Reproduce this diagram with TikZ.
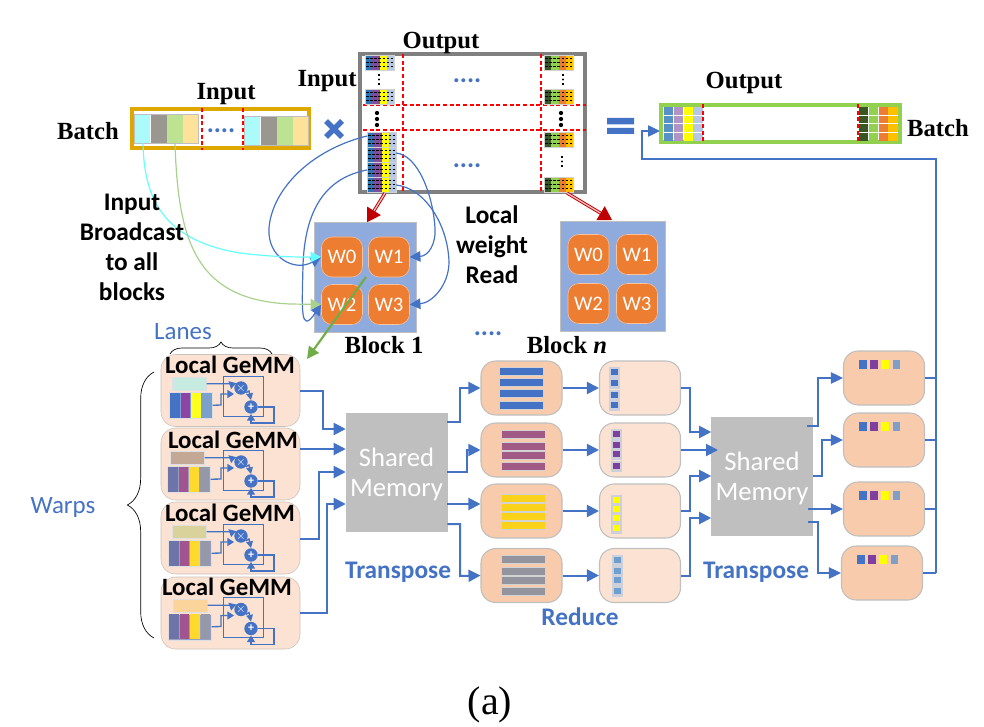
\documentclass[tikz,border=0pt]{standalone}
\usepackage{fontspec}
\setmainfont{Liberation Serif}
\setsansfont{Carlito}
\usepackage{tikz}
\usetikzlibrary{arrows.meta,decorations.pathreplacing}

\definecolor{wblue}{HTML}{4472C4}
\definecolor{wgold}{HTML}{DFA800}
\definecolor{wgreen}{HTML}{92D050}
\definecolor{wred}{HTML}{C00000}
\definecolor{wframe}{HTML}{808080}
\definecolor{wblock}{HTML}{8FAADC}
\definecolor{worange}{HTML}{ED7D31}
\definecolor{wpeach}{HTML}{F8CBAD}
\definecolor{wlight}{HTML}{FBE2D2}
\definecolor{wmem}{HTML}{BFBFBF}
\definecolor{vblue}{HTML}{2E75B6}
\definecolor{vpurple}{HTML}{7E4CA0}
\definecolor{vyellow}{HTML}{FFFF00}
\definecolor{vpale}{HTML}{B4C7E7}
\definecolor{vdark}{HTML}{385723}
\definecolor{vamber}{HTML}{FFC000}
\definecolor{icyan}{HTML}{AAFBF9}
\definecolor{igrey}{HTML}{9A9690}
\definecolor{igreen}{HTML}{BCE292}
\definecolor{iyellow}{HTML}{FFE299}
\definecolor{lcyan}{HTML}{66FFFF}
\definecolor{lgreen}{HTML}{A9D18E}
\definecolor{lback}{HTML}{CDD0DA}
\definecolor{ldown}{HTML}{70AD47}

\tikzset{
  sz/.style 2 args={minimum width=#1*.75pt,minimum height=#2*.75pt},
  title/.style={font=\bfseries\fontsize{18.5}{18.5}\selectfont,inner sep=0pt},
  lbl/.style={font=\sffamily\bfseries\fontsize{19}{22.5}\selectfont,inner sep=0pt,align=center},
  bluelbl/.style={lbl,text=wblue},
  thinlbl/.style={font=\sffamily\fontsize{18.7}{18.7}\selectfont,text=wblue,inner sep=0pt},
  reddash/.style={red,densely dashed,line width=1pt},
  flow/.style={wblue,line width=1.5pt,-{Triangle[length=9pt,width=9pt]}},
  thinflow/.style={wblue,line width=1pt,-{Triangle[length=9pt,width=8.5pt]}},
  busline/.style={wblue,line width=1pt},
  curve/.style={line width=.9pt,-{Triangle[length=8pt,width=8pt]}},
  redarrow/.style={wred,line width=.7pt,double=wred!25,double distance=1pt,-{Triangle[length=10pt,width=12pt]}},
  wcell/.style={draw=wlight!70!worange,fill=worange,rounded corners=8pt,sz={41}{40},text=white,
    font=\sffamily\fontsize{15.5}{15.5}\selectfont,inner sep=0pt},
  blockbox/.style={draw=wmem,fill=wblock,sz={#1}{110},inner sep=0pt},
  gemmbox/.style={draw=wmem!80!wpeach,fill=wlight,rounded corners=11pt,sz={139}{72},inner sep=0pt},
  rowbox/.style={draw=wmem,line width=.8pt,fill=#1,rounded corners=11pt,sz={81}{54},inner sep=0pt},
  membox/.style={draw=wmem,fill=wmem,sz={101}{118},text=white,inner sep=0pt,align=center,text depth=0pt,
    font=\sffamily\fontsize{20}{22.5}\selectfont},
  opcirc/.style={circle,fill=wblue,text=white,inner sep=0pt,minimum size=10pt,font=\sffamily\bfseries\fontsize{9}{9}\selectfont},
  dotlbl/.style={font=\sffamily\bfseries\fontsize{20}{20}\selectfont,text=wblue,inner sep=0pt,anchor=base}
}

% four columns with dashes in them
\newcommand{\wstrip}[6]{
  \foreach \c [count=\k from 0] in {#3,#4,#5,#6}
    \fill[\c] (#1+\k*7.3,#2) rectangle ++(7.3,15);
  \draw[wmem!70] (#1,#2) rectangle ++(29.2,15);
  \foreach \r in {3.8,7.5,11.2}
    \draw[black,line width=.45pt,dash pattern=on 2pt off 1.1pt] (#1+1,#2+\r) -- ++(27.2,0);
}
% one row of the output batch
\newcommand{\wrow}[6]{
  \foreach \c [count=\k from 0] in {#3,#4,#5,#6}
    \fill[\c] (#1+\k*9.8,#2) rectangle ++(9.3,7.8);
}

\begin{document}
\begin{tikzpicture}[x=.75pt,y=-.75pt]
 \useasboundingbox (0,0) rectangle (984,727);

 % input batch
 \draw[wgold,line width=3pt] (132,109.5) rectangle (309,148.5);
 \foreach \x/\y in {134/114,244/116} {
  \fill[icyan] (\x,\y) rectangle ++(16,29);
  \fill[igrey] (\x+17,\y) rectangle ++(16,29);
  \fill[igreen] (\x+33,\y) rectangle ++(16,29);
  \fill[iyellow] (\x+49,\y) rectangle ++(15,29);
  \draw[wmem] (\x,\y) rectangle ++(64,29);
 }
 \draw[reddash] (202,108) -- (202,150);
 \draw[reddash] (243,108) -- (243,150);
 \node[dotlbl] (dots0) at (221,133) {....};

 \node[title] (inname) at (226,94) {Input};
 \node[title] (batchin) at (88,131) {Batch};

 % times and equals
 \draw[wblue,line width=4pt] (326,121) -- (342,137) (342,121) -- (326,137);
 \fill[wblue] (607,118) rectangle (634,124.5) (607,128) rectangle (634,134);

 % weight matrix
 \draw[wframe,line width=3pt] (359.5,54.5) rectangle (584.5,192.5);
 \node[title] (outname) at (441,43) {Output};
 \node[title] (inname2) at (327,81) {Input};
 \draw[reddash] (403,54) -- (403,193);
 \draw[reddash] (541,54) -- (541,193);
 \draw[reddash] (363,105) -- (586,105);
 \draw[reddash] (363,130) -- (586,130);

 \wstrip{365}{55}{vblue}{vpurple}{vyellow}{vpale}
 \wstrip{365}{89}{vblue}{vpurple}{vyellow}{vpale}
 \foreach \y in {132,147,162,177}
  \wstrip{367}{\y}{vblue}{vpurple}{vyellow}{vpale}
 \foreach \y in {55,89,132,177}
  \wstrip{544}{\y}{vdark}{wgreen}{worange}{vamber}
 \foreach \x/\y in {379/75,563/75,562/157}
  \foreach \d in {0,4.5,9}
   \fill (\x,\y+\d) circle (.55pt);
 \foreach \x in {377,561}
  \foreach \y in {113,119,125}
   \fill (\x,\y) circle (1.6pt);
 \node[dotlbl] (dots1) at (467,83) {....};
 \node[dotlbl] (dots2) at (467,168) {....};

 \coordinate (s1) at (367,136);
 \coordinate (s2) at (396,153);
 \coordinate (s3) at (367,170);
 \coordinate (s4) at (396,185);
 \coordinate (s5) at (385,193);
 \coordinate (s6) at (567,193);

 % equals side, output batch
 \draw[wgreen,line width=3pt] (661,105) rectangle (900,142);
 \foreach \y in {107,115.7,124.4,133.1} {
  \wrow{664}{\y}{vblue!80!white}{vpurple!60!white}{vyellow}{vpale}
  \wrow{859}{\y}{vdark}{wgreen}{worange}{vamber}
 }
 \draw[reddash] (703,104) -- (703,143);
 \draw[reddash] (858,104) -- (858,143);
 \node[title] (outname2) at (744,82.5) {Output};
 \node[title] (batchout) at (938,128) {Batch};
 \coordinate (outin) at (660,131);

 % blocks
 \node[blockbox=102] (blk1) at (365,277.5) {};
 \node[blockbox=105] (blkn) at (612.5,276) {};
 \foreach \n/\x/\y in {0/342/257,1/389/257,2/342/304.5,3/389/304.5}
  \node[wcell] (a\n) at (\x,\y) {W\n};
 \foreach \n/\x/\y in {0/588.5/254.5,1/637/254.5,2/588.5/303.5,3/637/303.5}
  \node[wcell] (b\n) at (\x,\y) {W\n};
 \node[title] (blk1name) at (384,345) {Block 1};
 \node[title] (blknname) at (567,345) {Block \textit{n}};
 \node[dotlbl] (dots3) at (488,335) {....};

 \draw[redarrow] (s5) -- (blk1.north -| 367,0);
 \draw[redarrow] (s6) -- (612,220);

 % weight reads
 \draw[curve,wblue] (s1) .. controls (310,150) and (272,190) .. (269,228) .. controls (267,258) and (295,272) .. (a0.west);
 \draw[curve,wblue] (s3) .. controls (325,178) and (305,210) .. (303,265) .. controls (302,310) and (300,335) .. (a2.west);
 \draw[curve,wblue] (s2) .. controls (418,155) and (433,195) .. (435,228) .. controls (436,245) and (428,256) .. (a1.east);
 \draw[curve,wblue] (s4) .. controls (425,188) and (448,225) .. (449,262) .. controls (449,285) and (432,303) .. (a3.east);

 % broadcast
 \coordinate (c1) at (143,143);
 \coordinate (c2) at (175,143);
 \draw[curve,lcyan] (c1) .. controls (144,195) and (160,240) .. (240,253) .. controls (270,257) and (295,257) .. (a0.west);
 \draw[curve,lgreen] (c2) .. controls (178,240) and (195,300) .. (290,304) -- (a2.west);

 \node[lbl] (bcast) at (132,247.5) {Input\\Broadcast\\to all\\blocks};
 \node[lbl] (lread) at (492,244.5) {Local\\weight\\Read};

 \coordinate (gsrc) at (366,277);
 \coordinate (gdst) at (307,359);
 \draw[ldown,line width=1.6pt,-{Triangle[length=9pt,width=9pt]}] (gsrc) -- (gdst);

 % braces
 \node[thinlbl] (lanes) at (183,332) {Lanes};
 \node[thinlbl] (warps) at (63,508) {Warps};
 \draw[line width=.5pt,decorate,decoration={brace,amplitude=9pt}] (170,354) -- (272,354);
 \draw[line width=.5pt,decorate,decoration={brace,amplitude=20pt}] (154,638) -- (154,372);

 % local gemm blocks
 \foreach \i/\yy/\dy/\tx/\tl/\rx/\bx/\rc in {1/390.5/0/230/365/172/169/C6EBE0,2/464/74/233/440/170/167/C4A896,3/538/148/230/513/172/168/D9D29A,4/613/221.5/227/587/173/168/FAD49A} {
  \node[gemmbox] (g\i) at (230.5,\yy) {};
  \definecolor{rtop}{HTML}{\rc}
  \ifnum\i=1
   \definecolor{v1}{HTML}{4472C4}\definecolor{v2}{HTML}{8E44A5}\definecolor{v3}{HTML}{FFFF20}\definecolor{v4}{HTML}{7BA0CC}
  \else
   \definecolor{v1}{HTML}{6D75A8}\definecolor{v2}{HTML}{A05590}\definecolor{v3}{HTML}{FFD92B}\definecolor{v4}{HTML}{9498A8}
  \fi
  \node[draw=wmem!50,fill=rtop,sz={34}{13},inner sep=0pt,anchor=north west] (r\i) at (\rx,377+\dy) {};
  \node[draw=wmem!50,fill=v1!70!white,sz={43}{26},inner sep=0pt,anchor=north west] (q\i) at (\bx,392+\dy) {};
  \fill[v1] (\bx+1,392.5+\dy) rectangle ++(9.5,25);
  \fill[v2] (\bx+11.5,392.5+\dy) rectangle ++(9.5,25);
  \fill[v3] (\bx+22,392.5+\dy) rectangle ++(9.5,25);
  \fill[v4] (\bx+32.5,392.5+\dy) rectangle ++(9.5,25);
  \node[font=\sffamily\bfseries\fontsize{18.7}{18.7}\selectfont,inner sep=0pt] (t\i) at (\tx,\tl) {Local GeMM};
  \draw[wblue,line width=.7pt] (223,376+\dy) rectangle (263,416+\dy);
  \node[opcirc] (m\i) at (241,388+\dy) {$\times$};
  \node[opcirc] (p\i) at (251,407+\dy) {+};
  \draw[wblue,line width=1pt,-{Triangle[length=5pt,width=6pt]}] (r\i.east) -- (m\i.west |- r\i.east) -- (m\i.north west);
  \draw[wblue,line width=1pt,-{Triangle[length=5pt,width=6pt]}] (q\i.east) -- (221,405+\dy) -- (221,394+\dy) -- (m\i.west |- 0,394+\dy);
  \draw[wblue,line width=1pt,-{Triangle[length=5pt,width=5pt]}] (m\i.south east) -- (249,391+\dy) -- (p\i.north);
  \draw[wblue,line width=1pt,-{Triangle[length=5pt,width=6pt]}] (p\i.east) -- (274,407+\dy) -- (274,423+\dy) -- (251,423+\dy) -- (p\i.south);
 }

 % shared memories
 \node[membox] (mem1) at (396.5,472.5) {Shared\\Memory};
 \node[membox] (mem2) at (762,476) {Shared\\Memory};
 \node[bluelbl] (tr1) at (398,572) {Transpose};
 \node[bluelbl] (tr2) at (756,572) {Transpose};
 \node[bluelbl] (redu) at (580,617) {Reduce};

 \draw[flow] (g1.east) -- (323,390.5) -- (323,429) -- (mem1.west |- 0,429);
 \draw[flow] (g2.east |- 0,449) -- (mem1.west |- 0,449);
 \draw[flow] (g3.east |- 0,539) -- (319,539) -- (319,472) -- (mem1.west |- 0,472);
 \draw[flow] (g4.east |- 0,613) -- (327,613) -- (327,504) -- (mem1.west |- 0,504);

 % rows after the first memory
 \foreach \i/\y/\bc/\dc/\ba/\bb/\bd/\bz/\bx/\sx/\sa/\sb/\sd/\sz in {
   1/388/4472C4/4472C4/371/382.5/393/405/521/614/372/383/395/405,
   2/450/A05A85/7F3F9F/434.5/446/455.5/466.5/523/616/434/445/454/466,
   3/511/FAD21C/FFFF00/498/507/516.5/525.5/523/616/500/509/518/528,
   4/575.5/94949E/6F9FCF/559.5/571/580.5/591.5/523/617/560/571/580/591} {
  \definecolor{rbar}{HTML}{\bc}
  \definecolor{rdot}{HTML}{\dc}
  \node[rowbox=wpeach] (u\i) at (521.5,\y) {};
  \node[rowbox=wlight] (v\i) at (640,\y) {};
  \foreach \k in {\ba,\bb,\bd,\bz} {
   \fill[rbar] (\bx-22,\k-4) rectangle (\bx+22,\k+4);
   \draw[wmem!70,line width=.5pt] (\bx-22,\k-4) rectangle (\bx+22,\k+4);
  }
  \foreach \k in {\sa,\sb,\sd,\sz} {
   \fill[lback] (\sx-5.5,\k-5.5) rectangle (\sx+5.5,\k+5.5);
   \fill[rdot] (\sx-3.5,\k-3) rectangle (\sx+3.5,\k+3);
  }
  \draw[flow] (u\i.east) -- (v\i.west);
 }

 \draw[flow] (mem1.east |- 0,422) -- (460,422) -- (460,388) -- (u1.west);
 \draw[flow] (mem1.east |- 0,472) -- (467,472) -- (467,450) -- (u2.west);
 \draw[flow] (mem1.east |- 0,504) -- (u3.west |- 0,504);
 \draw[flow] (mem1.east |- 0,524) -- (460,524) -- (460,576) -- (u4.west);

 \draw[flow] (v1.east) -- (690,388) -- (690,432) -- (mem2.west |- 0,432);
 \draw[flow] (v2.east) -- (718,450);
 \draw[flow] (v3.east) -- (690,511) -- (690,476) -- (mem2.west |- 0,476);
 \draw[flow] (v4.east) -- (690,575.5) -- (690,518) -- (mem2.west |- 0,518);

 % output boxes and bus
 \foreach \i/\x/\y in {1/884/378,2/884/440,3/884/509,4/882/573} {
  \node[rowbox=wpeach] (w\i) at (\x,\y) {};
  \foreach \k/\c in {0/4472C4,1/7F3F9F,2/FFFF00,3/7F9FC6} {
   \definecolor{rdot}{HTML}{\c}
   \fill[rdot] (\x-25+\k*11.2,\y-18) rectangle ++(7.5,8.5);
  }
  \draw[busline] (w\i.east) -- (936,\y);
 }
 \draw[thinflow] (mem2.east |- 0,426) ++(-6,0) -- (818,426) -- (818,378) -- (w1.west);
 \draw[thinflow] (mem2.east |- 0,476) -- (822,476) -- (822,440) -- (w2.west);
 \draw[thinflow] (mem2.east |- 0,509) ++(-5,0) -- (w3.west);
 \draw[thinflow] (mem2.east |- 0,522) ++(-5,0) -- (818,522) -- (818,573) -- (w4.west);
 \draw[thinflow] (936,573) -- (936,159) -- (642,159) -- (642,131) -- (outin);

 \node[font=\fontsize{30}{30}\selectfont,inner sep=0pt] (figlbl) at (490,705) {(a)};
\end{tikzpicture}
\end{document}
